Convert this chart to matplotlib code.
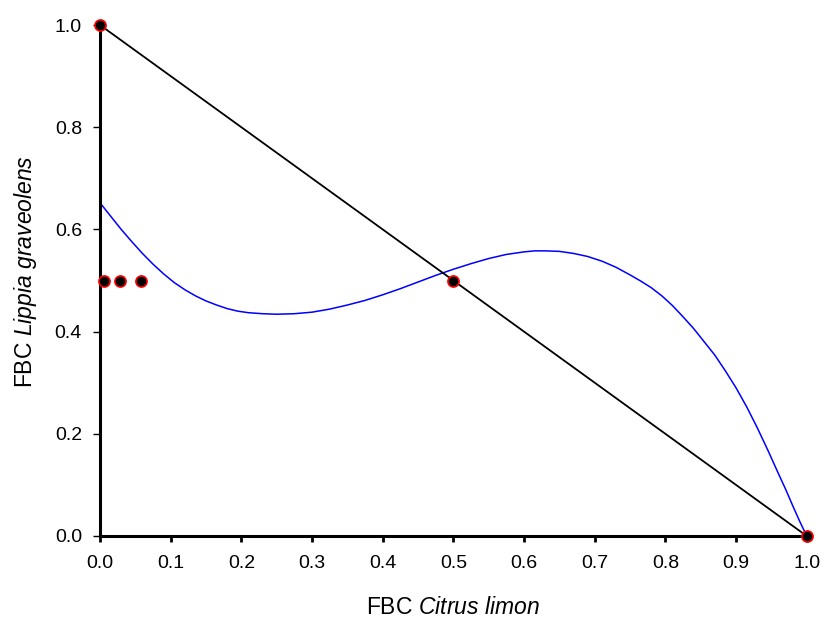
import matplotlib
matplotlib.use("Agg")
import matplotlib.pyplot as plt

plt.rcParams['font.family'] = ['Liberation Sans', 'DejaVu Sans']
plt.rcParams['mathtext.fontset'] = 'custom'
plt.rcParams['mathtext.rm'] = 'Liberation Sans'
plt.rcParams['mathtext.it'] = 'Liberation Sans:italic'

# observed points
obs_x = [0.0, 0.006, 0.028, 0.058, 0.5, 1.0]
obs_y = [1.0, 0.5, 0.5, 0.5, 0.5, 0.0]

# straight line between the two pure points
line_x = [0.0, 1.0]
line_y = [1.0, 0.0]

# blue curve
curve_x = [0.000, 0.015, 0.030, 0.045, 0.060, 0.075, 0.090, 0.105, 0.120, 0.135,
           0.150, 0.165, 0.180, 0.195, 0.210, 0.230, 0.250, 0.275, 0.300, 0.325,
           0.350, 0.375, 0.400, 0.425, 0.450, 0.475, 0.500, 0.525, 0.550, 0.575,
           0.600, 0.615, 0.630, 0.650, 0.670, 0.690, 0.710, 0.730, 0.750, 0.765,
           0.780, 0.795, 0.810, 0.825, 0.840, 0.855, 0.870, 0.885, 0.900, 0.915,
           0.930, 0.945, 0.960, 0.970, 0.980, 0.990, 1.000]
curve_y = [0.652, 0.626, 0.600, 0.576, 0.553, 0.532, 0.513, 0.496, 0.482, 0.470,
           0.460, 0.452, 0.445, 0.440, 0.437, 0.435, 0.434, 0.435, 0.438, 0.444,
           0.452, 0.461, 0.472, 0.484, 0.497, 0.510, 0.522, 0.533, 0.543, 0.551,
           0.556, 0.558, 0.558, 0.557, 0.553, 0.547, 0.538, 0.526, 0.511, 0.499,
           0.486, 0.470, 0.451, 0.429, 0.406, 0.380, 0.354, 0.323, 0.290, 0.253,
           0.212, 0.168, 0.122, 0.092, 0.060, 0.029, 0.000]

x_ticks = [0.0, 0.1, 0.2, 0.3, 0.4, 0.5, 0.6, 0.7, 0.8, 0.9, 1.0]
y_ticks = [0.0, 0.2, 0.4, 0.6, 0.8, 1.0]

fig = plt.figure(figsize=(8.24, 6.19), dpi=100)
ax = fig.add_axes([100 / 824, 1 - 536 / 619, 706.7 / 824, 511 / 619])

ax.plot(curve_x, curve_y, color='#0000ff', lw=1.1, zorder=2)
ax.plot(line_x, line_y, color='black', lw=1.3, zorder=3)
ax.plot(obs_x, obs_y, 'o', ms=8, mfc='black', mec='#ff0000', mew=1.2,
        zorder=5, clip_on=False)

ax.set_xlim(0, 1)
ax.set_ylim(0, 1)
ax.set_xticks(x_ticks)
ax.set_yticks(y_ticks)
ax.set_xticklabels(['%.1f' % v for v in x_ticks])
ax.set_yticklabels(['%.1f' % v for v in y_ticks])

for s in ['top', 'right']:
    ax.spines[s].set_visible(False)
for s in ['left', 'bottom']:
    ax.spines[s].set_linewidth(2.2)

ax.tick_params(axis='x', direction='out', length=4.5, width=2, pad=9, labelsize=14)
ax.tick_params(axis='y', direction='out', length=5, width=1, pad=8, labelsize=14)

ax.set_xlabel(r'FBC $\mathit{Citrus\ limon}$', fontsize=16.5)
ax.set_ylabel(r'FBC $\mathit{Lippia\ graveolens}$', fontsize=16.5)
ax.xaxis.set_label_coords(0.5, -0.139)
ax.xaxis.label.set_va('center')
ax.yaxis.set_label_coords(-0.106, 0.517)
ax.yaxis.label.set_va('center')

fig.savefig('out.png', dpi=100)
